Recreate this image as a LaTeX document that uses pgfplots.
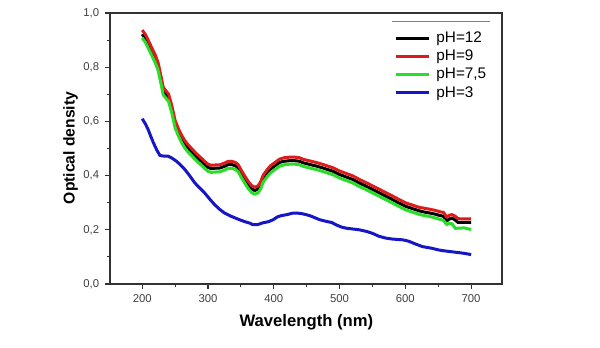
\documentclass[border=0pt]{standalone}
\usepackage{pgfplots}
\pgfplotsset{compat=1.18}
\usepackage{pgfplotstable}
\usepackage{fontspec}
\setmainfont{Liberation Sans}

\definecolor{odred}{RGB}{220,28,28}
\definecolor{odgreen}{RGB}{40,222,40}
\definecolor{odblue}{RGB}{22,22,200}
\definecolor{axgray}{RGB}{50,50,50}

% pH=12
\pgfplotstableread{
x y
200 0.922
205 0.905
210 0.880
215 0.855
220 0.830
224 0.805
228 0.760
232 0.712
236 0.700
240 0.688
245 0.645
250 0.590
255 0.560
260 0.535
265 0.515
270 0.500
275 0.488
280 0.475
285 0.463
290 0.452
295 0.440
300 0.430
305 0.426
310 0.427
318 0.428
325 0.434
330 0.440
336 0.441
342 0.436
346 0.428
350 0.410
355 0.390
361 0.367
366 0.352
371 0.345
376 0.350
380 0.365
384 0.390
390 0.410
395 0.424
400 0.433
409 0.449
416 0.453
424 0.455
432 0.455
439 0.453
445 0.447
455 0.441
465 0.435
475 0.428
490 0.416
500 0.404
510 0.395
520 0.386
530 0.373
543 0.358
556 0.342
568 0.327
581 0.311
591 0.298
601 0.286
611 0.278
621 0.270
630 0.265
637 0.262
645 0.258
652 0.253
658 0.250
663 0.233
667 0.240
671 0.243
676 0.236
680 0.227
690 0.227
700 0.227
}\phtwelve

% pH=9
\pgfplotstableread{
x y
200 0.937
205 0.920
210 0.895
215 0.869
220 0.844
224 0.818
228 0.773
232 0.725
236 0.713
240 0.701
245 0.658
250 0.603
255 0.573
260 0.548
265 0.528
270 0.513
275 0.500
280 0.487
285 0.475
290 0.464
295 0.452
300 0.442
305 0.438
310 0.439
318 0.440
325 0.446
330 0.452
336 0.453
342 0.448
346 0.440
350 0.422
355 0.402
361 0.379
366 0.364
371 0.357
376 0.362
380 0.377
384 0.402
390 0.422
395 0.436
400 0.445
409 0.461
416 0.466
424 0.468
432 0.468
439 0.466
445 0.460
455 0.454
465 0.448
475 0.441
490 0.429
500 0.417
510 0.408
520 0.399
530 0.386
543 0.371
556 0.355
568 0.340
581 0.324
591 0.311
601 0.299
611 0.291
621 0.283
630 0.279
637 0.276
645 0.272
652 0.267
658 0.264
663 0.247
667 0.254
671 0.256
676 0.250
680 0.241
690 0.240
700 0.240
}\phnine

% pH=7,5
\pgfplotstableread{
x y
200 0.908
205 0.891
210 0.866
215 0.841
220 0.815
224 0.790
228 0.745
232 0.698
236 0.686
240 0.674
245 0.631
250 0.576
255 0.546
260 0.521
265 0.501
270 0.486
275 0.474
280 0.461
285 0.449
290 0.438
295 0.426
300 0.416
305 0.412
310 0.413
318 0.414
325 0.420
330 0.426
336 0.427
342 0.422
346 0.414
350 0.396
355 0.376
361 0.353
366 0.338
371 0.331
376 0.336
380 0.351
384 0.376
390 0.396
395 0.410
400 0.419
409 0.435
416 0.440
424 0.442
432 0.442
439 0.440
445 0.434
455 0.428
465 0.422
475 0.415
490 0.403
500 0.391
510 0.382
520 0.373
530 0.360
543 0.345
556 0.329
568 0.314
581 0.298
591 0.285
601 0.273
611 0.265
621 0.257
630 0.252
637 0.249
645 0.244
652 0.239
658 0.235
663 0.219
667 0.224
671 0.222
676 0.205
680 0.206
690 0.207
700 0.201
}\phseven

% pH=3
\pgfplotstableread{
x y
200 0.610
205 0.590
209 0.570
213 0.545
217 0.521
222 0.495
227 0.474
233 0.472
239 0.472
245 0.465
252 0.453
258 0.440
265 0.422
272 0.400
280 0.373
287 0.355
295 0.336
302 0.315
310 0.293
318 0.275
325 0.262
335 0.250
346 0.239
356 0.230
363 0.225
368 0.219
375 0.219
384 0.226
392 0.230
399 0.237
405 0.247
411 0.252
420 0.256
428 0.261
434 0.262
442 0.260
449 0.256
455 0.252
462 0.245
470 0.237
480 0.231
488 0.227
495 0.218
503 0.210
510 0.206
520 0.203
530 0.200
541 0.194
550 0.187
560 0.176
571 0.169
580 0.166
590 0.164
596 0.163
605 0.158
615 0.148
626 0.138
640 0.132
650 0.126
657 0.123
667 0.120
677 0.117
687 0.114
697 0.110
700 0.108
}\phthree

\begin{document}
\begin{tikzpicture}
\path[use as bounding box] (0,0) rectangle (360pt,208.8pt);
\begin{axis}[
    at={(66pt,38.4pt)}, anchor=south west,
    scale only axis,
    width=235.2pt, height=162.6pt,
    xmin=151, xmax=747,
    ymin=0, ymax=1.0,
    xtick={200,300,400,500,600,700},
    ytick={0,0.2,0.4,0.6,0.8,1.0},
    minor x tick num=1, minor y tick num=1,
    xtick pos=bottom, ytick pos=left,
    tick align=outside,
    major tick length=3pt, minor tick length=1.8pt,
    tick style={axgray, line width=0.7pt},
    axis line style={axgray, line width=0.9pt},
    /pgf/number format/assume math mode=true,
    yticklabel style={/pgf/number format/.cd, use comma, fixed, fixed zerofill, precision=1},
    xticklabel style={/pgf/number format/.cd, set thousands separator={}},
    tick label style={font=\fontsize{6.8}{8}\selectfont, text=black!75},
    xlabel={Wavelength (nm)},
    ylabel={Optical density},
    xlabel style={font=\fontsize{10}{12}\selectfont\bfseries, at={(axis description cs:0.501,-0.140)}, anchor=center},
    ylabel style={font=\fontsize{9.4}{11}\selectfont\bfseries, at={(axis description cs:-0.1003,0.502)}, anchor=center},
    legend style={at={(rel axis cs:0.72,0.95)}, anchor=north west, draw=none, fill=white,
        font=\fontsize{9.2}{10}\selectfont, row sep=-1pt, inner sep=1pt,
        /tikz/every odd column/.append style={column sep=1.5pt}},
    legend cell align=left,
    legend image code/.code={\draw[#1] (0pt,0pt) -- (20pt,0pt);},
    every axis plot/.append style={line width=1.8pt, line join=round},
]
\addplot[black] table[x=x,y=y] {\phtwelve};
\addplot[odred] table[x=x,y=y] {\phnine};
\addplot[odgreen] table[x=x,y=y] {\phseven};
\addplot[odblue] table[x=x,y=y] {\phthree};
\legend{pH=12, pH=9, pH=7{,}5, pH=3}
\draw[gray, line width=0.6pt] (rel axis cs:0.719,0.967) -- (rel axis cs:0.969,0.967);
\end{axis}
\end{tikzpicture}
\end{document}
